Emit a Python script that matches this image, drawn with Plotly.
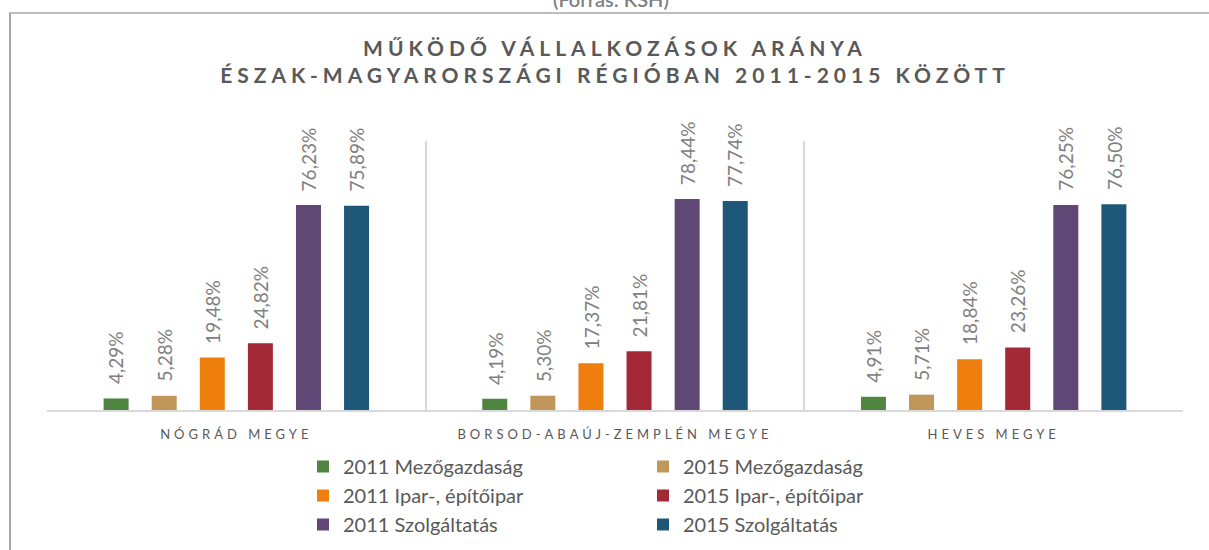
import plotly.graph_objects as go

# --- data -------------------------------------------------------------
categories = ["NÓGRÁD MEGYE", "BORSOD-ABAÚJ-ZEMPLÉN MEGYE", "HEVES MEGYE"]

agri_2011 = [4.29, 4.19, 4.91]
agri_2015 = [5.28, 5.30, 5.71]
ind_2011 = [19.48, 17.37, 18.84]
ind_2015 = [24.82, 21.81, 23.26]
serv_2011 = [76.23, 78.44, 76.25]
serv_2015 = [75.89, 77.74, 76.50]

series_names = [
    "2011 Mezőgazdaság", "2015 Mezőgazdaság",
    "2011 Ipar-, építőipar", "2015 Ipar-, építőipar",
    "2011 Szolgáltatás", "2015 Szolgáltatás",
]
series_values = [agri_2011, agri_2015, ind_2011, ind_2015, serv_2011, serv_2015]
series_colors = ["#4F8541", "#C1965B", "#EE7F0E", "#A32937", "#5F4776", "#1E5879"]
series_legend = ["legend", "legend2", "legend", "legend2", "legend", "legend2"]

# --- geometry ---------------------------------------------------------
W, H = 1209, 550
ML, MR, MT, MB = 47, 26, 141, 140
PW, PH = W - ML - MR, H - MT - MB
BARGAP, BARGROUPGAP = 0.238, 0.48

FONT = "Lato"
TEXT_GREY = "#595959"
LABEL_GREY = "#808080"
GRID_GREY = "#D9D9D9"


def px_x(px):
    return (px - ML) / PW


def px_y(py):
    return 1 - (py - MT) / PH


def fmt(v):
    return f"{v:.2f}%".replace(".", ",")


fig = go.Figure()
for name, vals, col, lg in zip(series_names, series_values, series_colors, series_legend):
    fig.add_trace(go.Bar(
        name=name, x=categories, y=vals, marker_color=col,
        marker_line_width=0, legend=lg,
    ))

# rotated value labels above each bar
n = len(series_values)
slot = (1 - BARGAP) / n
annotations = []
for j, vals in enumerate(series_values):
    for i, v in enumerate(vals):
        annotations.append(dict(
            x=i - (1 - BARGAP) / 2 + slot * (j + 0.5), y=v, xref="x", yref="y",
            text=fmt(v), textangle=-90, showarrow=False,
            xanchor="center", yanchor="bottom", yshift=12,
            font=dict(family=FONT, size=19, color=LABEL_GREY),
        ))

annotations.append(dict(
    x=px_x(611), y=px_y(13), xref="paper", yref="paper",
    text="(Forrás: KSH)", showarrow=False, xanchor="center", yanchor="bottom",
    font=dict(family=FONT, size=20, color="#7F7F7F", weight=600),
))

shapes = [
    dict(type="line", xref="paper", yref="paper",
         x0=px_x(10), x1=px_x(10), y0=px_y(13), y1=px_y(570),
         line=dict(color="#A6A6A6", width=2)),
    dict(type="line", xref="paper", yref="paper",
         x0=px_x(9), x1=px_x(1220), y0=px_y(13), y1=px_y(13),
         line=dict(color="#A6A6A6", width=1.3)),
]

legend_style = dict(
    xanchor="left", yanchor="top", orientation="v",
    font=dict(family=FONT, size=20, color=TEXT_GREY),
    bgcolor="rgba(0,0,0,0)", borderwidth=0,
)

fig.update_layout(
    width=W, height=H, autosize=False,
    margin=dict(l=ML, r=MR, t=MT, b=MB, pad=0, autoexpand=False),
    paper_bgcolor="white", plot_bgcolor="white",
    barmode="group", bargap=BARGAP, bargroupgap=BARGROUPGAP,
    title=dict(
        text="MŰKÖDŐ VÁLLALKOZÁSOK ARÁNYA<br>ÉSZAK-MAGYARORSZÁGI RÉGIÓBAN 2011-2015 KÖZÖTT",
        x=0.5, xref="paper", xanchor="center",
        y=1 - 56 / H, yref="container", yanchor="top",
        font=dict(family=FONT, size=21, color=TEXT_GREY, weight=700),
    ),
    xaxis=dict(
        type="category", tickson="boundaries", ticks="",
        showgrid=True, gridcolor=GRID_GREY, gridwidth=2,
        showline=True, linecolor=GRID_GREY, linewidth=2,
        tickfont=dict(family=FONT, size=13, color=TEXT_GREY),
        ticklabelstandoff=11,
        range=[-0.5, 2.5],
    ),
    yaxis=dict(range=[0, 100], showgrid=False, zeroline=False,
               showticklabels=False, ticks="", showline=False),
    legend=dict(x=px_x(303), y=px_y(447), **legend_style),
    legend2=dict(x=px_x(643), y=px_y(447), **legend_style),
    annotations=annotations,
    shapes=shapes,
    showlegend=True,
)

# widen character spacing of the title and the category labels
spacing_js = """
var gd = document.getElementById('{plot_id}');
function spaceText() {
  gd.querySelectorAll('.gtitle').forEach(function (t) { t.style.letterSpacing = '5px'; });
  gd.querySelectorAll('.xtick text').forEach(function (t) { t.style.letterSpacing = '4px'; });
}
spaceText();
gd.on('plotly_afterplot', spaceText);
"""

fig.write_html("out.html", post_script=spacing_js)
